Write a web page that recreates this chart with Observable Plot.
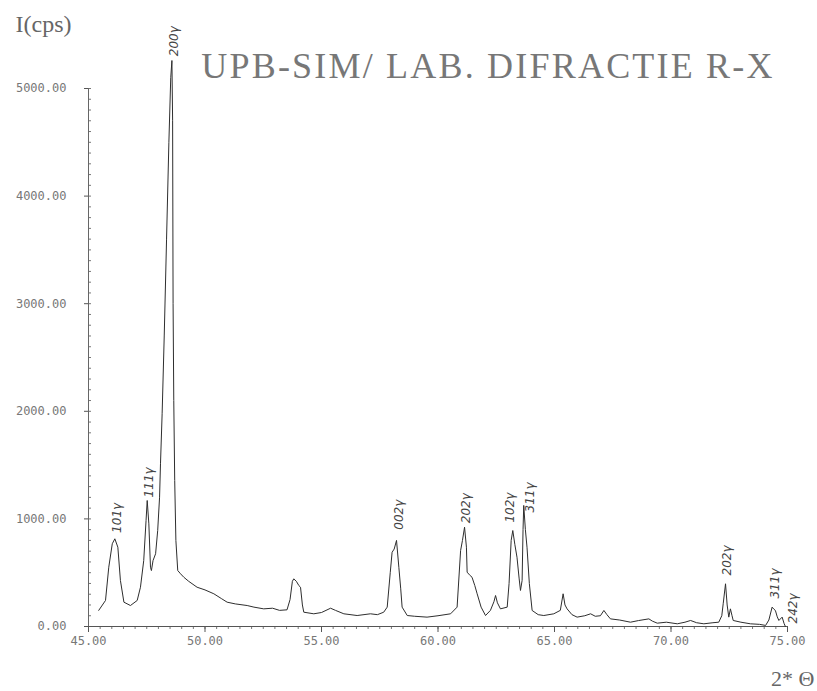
<!DOCTYPE html>
<html>
<head>
<meta charset="utf-8">
<script src="https://cdn.jsdelivr.net/npm/d3@7"></script>
<script src="https://cdn.jsdelivr.net/npm/@observablehq/plot@0.6"></script>
<style>
  html, body { margin: 0; padding: 0; background: #fff; }
  #chart { width: 817px; height: 691px; overflow: hidden; }
</style>
</head>
<body>
<div id="chart"></div>
<script>
// 2θ (degrees)
const twoTheta = [
  45.44, 45.73, 45.87, 46.02, 46.13, 46.26, 46.37, 46.52, 46.80, 47.09,
  47.23, 47.37, 47.47, 47.52, 47.59, 47.66, 47.70, 47.77, 47.88, 47.97,
  48.05, 48.09, 48.16, 48.25, 48.35, 48.45, 48.53, 48.58, 48.61, 48.63,
  48.66, 48.70, 48.75, 48.83, 48.95, 49.09, 49.30, 49.66, 50.00, 50.38,
  50.70, 50.95, 51.30, 51.81, 52.10, 52.52, 52.90, 53.20, 53.52, 53.65,
  53.75, 53.81, 53.92, 54.03, 54.10, 54.18, 54.24, 54.67, 55.00, 55.39,
  55.60, 55.96, 56.53, 57.10, 57.40, 57.67, 57.82, 57.95, 58.03, 58.12,
  58.22, 58.32, 58.40, 58.46, 58.68, 59.00, 59.53, 60.00, 60.54, 60.82,
  60.97, 61.05, 61.14, 61.22, 61.25, 61.35, 61.46, 61.58, 61.68, 61.85,
  62.04, 62.25, 62.40, 62.47, 62.55, 62.68, 62.97, 63.05, 63.14, 63.21,
  63.30, 63.39, 63.48, 63.54, 63.61, 63.65, 63.68, 63.75, 63.82, 63.92,
  64.04, 64.30, 64.54, 64.97, 65.25, 65.37, 65.45, 65.54, 65.75, 65.97,
  66.30, 66.55, 66.75, 66.97, 67.12, 67.25, 67.40, 67.80, 68.26, 68.60,
  69.05, 69.20, 69.41, 69.80, 70.27, 70.60, 70.84, 71.10, 71.41, 71.80,
  72.05, 72.18, 72.24, 72.34, 72.41, 72.48, 72.55, 72.62, 72.67, 73.00,
  73.41, 73.80, 74.06, 74.20, 74.34, 74.42, 74.48, 74.56, 74.63, 74.77,
  74.85, 74.91
];
// intensity (cps)
const intensity = [
  150, 242, 551, 769, 815, 737, 428, 226, 195, 242,
  365, 613, 985, 1171, 954, 551, 520, 613, 676, 892,
  1202, 1512, 1977, 2700, 3600, 4500, 5100, 5260, 4700, 3000,
  2100, 1357, 800, 520, 490, 458, 420, 365, 340, 304,
  260, 226, 210, 195, 180, 164, 170, 150, 155, 250,
  420, 443, 420, 380, 365, 200, 133, 118, 130, 170,
  150, 118, 102, 118, 110, 133, 180, 500, 690, 720,
  800, 550, 350, 180, 102, 95, 87, 100, 118, 180,
  706, 800, 923, 737, 505, 480, 458, 380, 304, 180,
  102, 150, 230, 288, 220, 164, 180, 400, 800, 892,
  760, 644, 450, 335, 428, 900, 1125, 900, 737, 400,
  149, 110, 102, 118, 150, 304, 200, 164, 110, 87,
  100, 118, 95, 100, 149, 110, 71, 60, 40, 55,
  71, 50, 31, 40, 25, 40, 56, 35, 25, 35,
  40, 100, 211, 397, 200, 87, 164, 100, 56, 40,
  25, 20, 10, 60, 180, 160, 149, 90, 56, 87,
  30, 0
];
// peak annotations
const peakNames = ["101γ", "111γ", "200γ", "002γ", "202γ", "102γ", "311γ", "202γ", "311γ", "242γ"];
const peakPos   = [46.23, 47.59, 48.66, 58.32, 61.22, 63.11, 63.97, 72.41, 74.48, 75.26];
const peakAt    = [870, 1200, 5300, 900, 960, 966, 1060, 474, 260, 28];
// axis ticks
const xTicks = [45, 50, 55, 60, 65, 70, 75];
const yTicks = [0, 1000, 2000, 3000, 4000, 5000];
const xMinor = d3.range(45, 75.01, 0.5);
const yMinor = d3.range(0, 5000.1, 100);

const pattern = twoTheta.map((t, i) => ({t, I: intensity[i]}));
const peaks = peakNames.map((name, i) => ({name, x: peakPos[i], y: peakAt[i]}));

const chart = Plot.plot({
  width: 817,
  height: 691,
  marginLeft: 88,
  marginRight: 30,
  marginTop: 88,
  marginBottom: 65,
  style: {background: "#fff", overflow: "visible", color: "#666"},
  x: {domain: [45, 75]},
  y: {domain: [0, 5000]},
  marks: [
    Plot.axisX({ticks: xMinor, tickSize: 3, fill: "none", text: null, label: null, stroke: "#777"}),
    Plot.axisX({ticks: xTicks, tickSize: 6, tickPadding: 4, tickFormat: d => d.toFixed(2), label: null,
      fontFamily: "DejaVu Sans Mono", fontSize: 12, fill: "#777", stroke: "#555"}),
    Plot.axisY({ticks: yMinor, tickSize: -3, fill: "none", text: null, label: null, stroke: "#777"}),
    Plot.axisY({ticks: yTicks, tickSize: 4, tickPadding: 18, tickFormat: d => d.toFixed(2), label: null,
      fontFamily: "DejaVu Sans Mono", fontSize: 12, fill: "#777", stroke: "#555"}),
    Plot.ruleY([0], {stroke: "#555", strokeWidth: 1}),
    Plot.ruleX([45], {stroke: "#666", strokeWidth: 1}),
    Plot.line(pattern, {x: "t", y: "I", stroke: "#2e2e2e", strokeWidth: 1, curve: "linear"}),
    Plot.text(peaks, {x: "x", y: "y", text: "name", rotate: -90, textAnchor: "start",
      fontSize: 12, fontStyle: "italic", fontFamily: "DejaVu Sans", fill: "#444"}),
    Plot.text(["I(cps)"], {frameAnchor: "top-left", dx: -73, dy: -74, textAnchor: "start",
      fontSize: 24, fontFamily: "Liberation Serif", fill: "#666"}),
    Plot.text(["UPB-SIM/ LAB. DIFRACTIE R-X"], {frameAnchor: "top", dx: 50, dy: -36,
      fontSize: 36, fontFamily: "Liberation Serif", fill: "#777", className: "title"}),
    Plot.text(["2* Θ"], {frameAnchor: "bottom-right", dx: 27, dy: 59,
      fontSize: 22, fontFamily: "Liberation Serif", fill: "#666"})
  ]
});
d3.select(chart).selectAll(".title text").attr("letter-spacing", "2.2px");
document.getElementById("chart").appendChild(chart);
</script>
</body>
</html>
